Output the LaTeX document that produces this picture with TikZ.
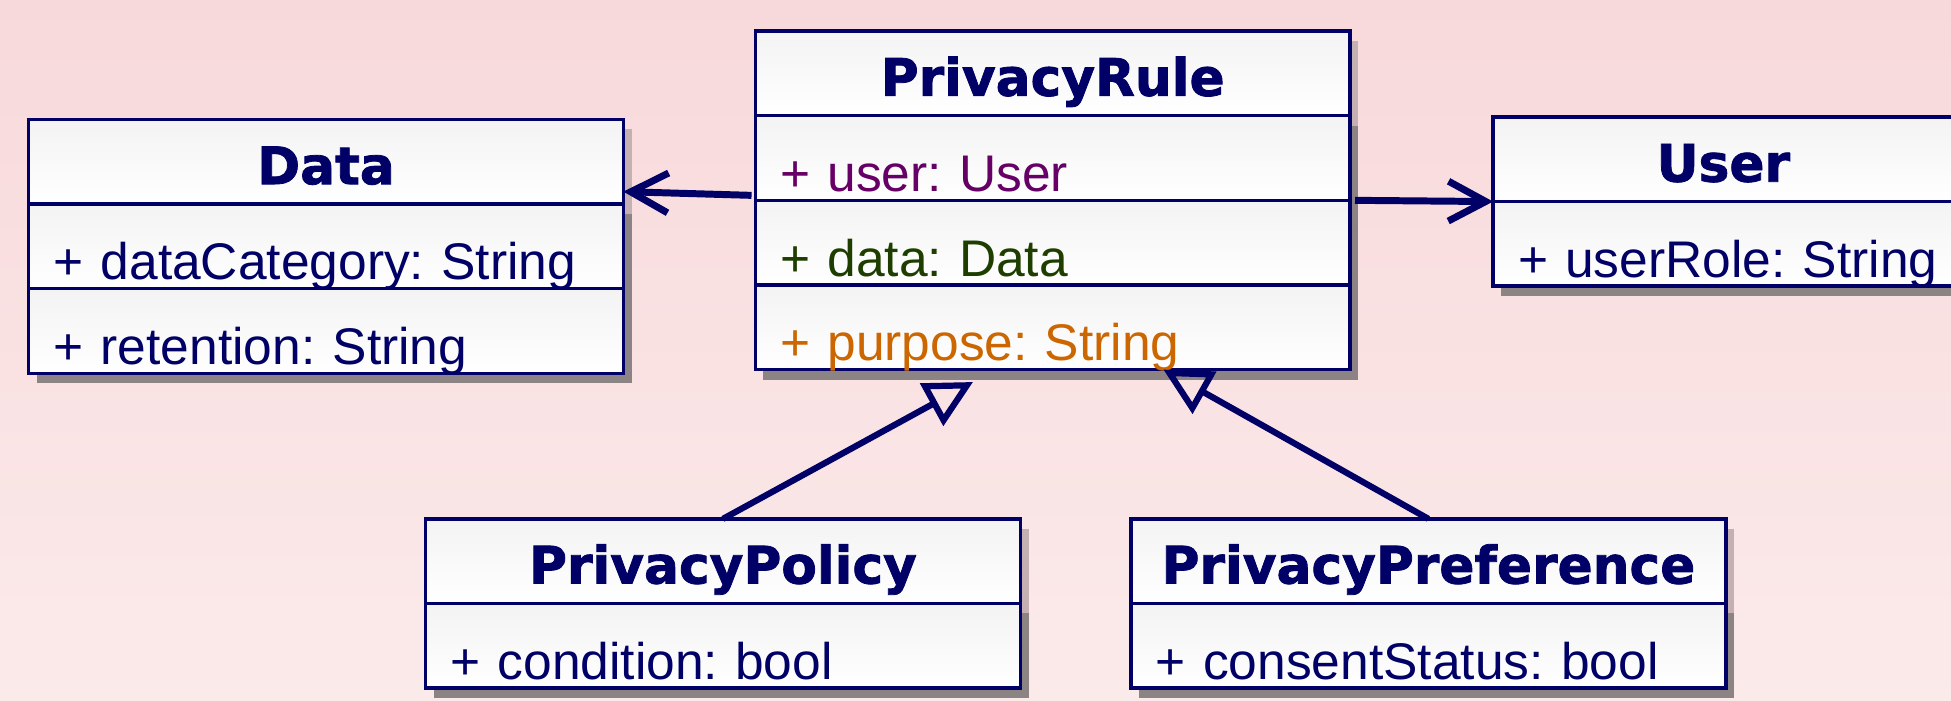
\documentclass[tikz,border=0pt]{standalone}
\usepackage{fontspec}
\setmainfont{Liberation Sans}
\newfontfamily\classfont{DejaVu Sans}[BoldFeatures={FakeBold=1.5}]
\usetikzlibrary{positioning,shadows,arrows.meta}

\definecolor{umlblue}{RGB}{0,0,102}
\definecolor{umlshadow}{RGB}{140,132,132}
\definecolor{umlshadowlight}{RGB}{196,176,178}
\definecolor{bgtop}{RGB}{248,217,219}
\definecolor{bgbottom}{RGB}{251,234,234}
\definecolor{boxtop}{RGB}{243,243,243}
\definecolor{attuser}{RGB}{102,0,102}
\definecolor{attdata}{RGB}{30,62,0}
\definecolor{attpurpose}{RGB}{204,102,0}

\begin{document}
\frenchspacing
\begin{tikzpicture}[
        x = 0.5pt, y = -0.5pt,
        compartment/.style = {draw=umlblue, line width=1.4pt, outer sep=0pt,
                              top color=boxtop, bottom color=white,
                              inner ysep=0pt, inner xsep=10pt, minimum height=34pt},
        classname/.style   = {compartment, anchor=north west, text width=219pt, align=center,
                              drop shadow={shadow xshift=3.3pt, shadow yshift=-4pt, fill=umlshadowlight, opacity=1},
                              text height=26pt, text depth=8pt, text=umlblue,
                              font=\classfont\bfseries\fontsize{20.8}{24}\selectfont},
        attribute/.style   = {compartment, below=0pt of #1, text width=219pt, align=left,
                              drop shadow={shadow xshift=3.3pt, shadow yshift=-4pt, fill=umlshadow, opacity=1},
                              text height=30.5pt, text depth=3.5pt, text=umlblue,
                              font=\fontsize{20.7}{25}\selectfont},
        assoc/.style       = {draw=umlblue, line width=2.8pt, -{Straight Barb[length=15pt, width=16pt]}},
        inherit/.style     = {draw=umlblue, line width=2.5pt, -{Triangle[open, length=19pt, width=19pt]}},
      ]
        % background
        \shade[top color=bgtop, bottom color=bgbottom] (0,0) rectangle (1568,563);
        \useasboundingbox (0,0) rectangle (1568,563);

        % classes
        \node[classname] (data) at (23,96) {Data};
        \node[attribute=data] (datacat) {+ dataCategory: String};
        \node[attribute=datacat] (dataret) {+ retention: String};

        \node[classname] (rule) at (607,25) {PrivacyRule};
        \node[attribute=rule, text=attuser] (ruleuser) {+ user: User};
        \node[attribute=ruleuser, text=attdata] (ruledata) {+ data: Data};
        \node[attribute=ruledata, text=attpurpose] (rulepurpose) {+ purpose: String};

        \node[classname, text width=165pt] (user) at (1200,94) {User};
        \node[attribute=user, text width=165pt] (userrole) {\mbox{+ userRole: String}};

        \node[classname] (policy) at (342,417) {PrivacyPolicy};
        \node[attribute=policy] (policycond) {+ condition: bool};

        \node[classname] (pref) at (909,417) {PrivacyPreference};
        \node[attribute=pref] (prefconsent) {+ consentStatus: bool};

        % associations
        \draw[assoc] ([xshift=-1.5pt, yshift=2pt]ruleuser.south west) -- ([yshift=5pt]data.south east);
        \draw[assoc] ([xshift=2pt]ruleuser.south east) -- (user.south west);

        % generalizations
        \draw[inherit] (policy.north) -- ([xshift=-32pt, yshift=-5pt]rulepurpose.south);
        \draw[inherit] (pref.north) -- ([xshift=44.5pt]rulepurpose.south);
    \end{tikzpicture}
\end{document}
